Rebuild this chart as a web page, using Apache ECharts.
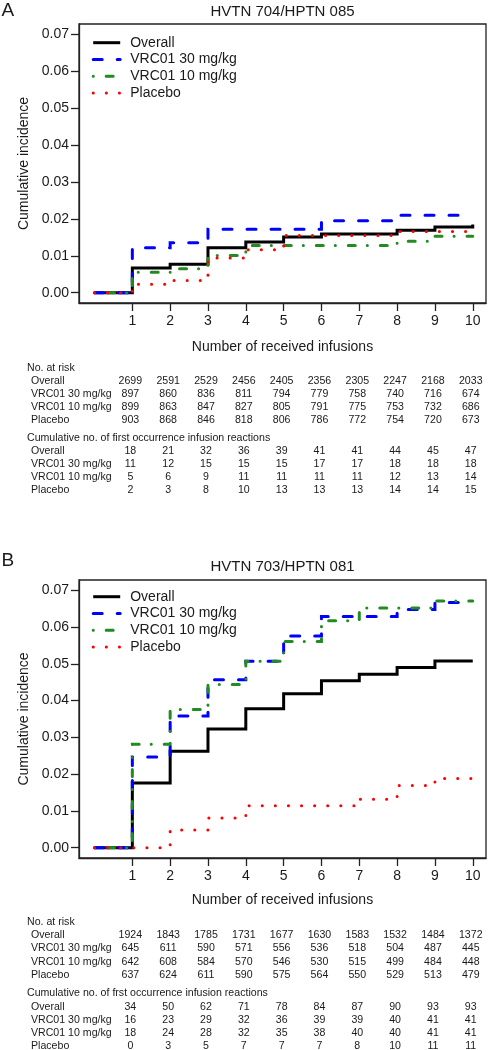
<!DOCTYPE html>
<html><head><meta charset="utf-8">
<script src="https://cdn.jsdelivr.net/npm/echarts@6/dist/echarts.min.js"></script>
<style>html,body{margin:0;padding:0;background:#fff}#c{width:489px;height:1050px}</style>
</head><body><div id="c"></div>
<script>
// ---------- data ----------
const infusions = [0,1,2,3,4,5,6,7,8,9,10];
const xTicks = [1,2,3,4,5,6,7,8,9,10];
const yTicks = [0,0.01,0.02,0.03,0.04,0.05,0.06,0.07];
const seriesNames = ['Overall','VRC01 30 mg/kg','VRC01 10 mg/kg','Placebo'];

const titleA = 'HVTN 704/HPTN 085';
const titleB = 'HVTN 703/HPTN 081';
const xAxisTitle = 'Number of received infusions';
const yAxisTitle = 'Cumulative incidence';
const riskHeader = 'No. at risk';
const eventHeaderA = 'Cumulative no. of first occurrence infusion reactions';
const eventHeaderB = 'Cumulative no. of frst occurrence infusion reactions';

// Panel A cumulative incidence (value after k infusions)
const cumIncA_overall = [0,0.0067,0.0077,0.0122,0.0137,0.0151,0.0159,0.0159,0.0169,0.0178,0.0185];
const cumIncA_vrc30   = [0,0.0122,0.0135,0.0172,0.0172,0.0172,0.0195,0.0195,0.0210,0.0210,0.0210];
const cumIncA_vrc10   = [0,0.0055,0.0065,0.0101,0.0128,0.0128,0.0128,0.0128,0.0139,0.0153,0.0153];
const cumIncA_placebo = [0,0.0023,0.0033,0.0094,0.0116,0.0155,0.0155,0.0155,0.0166,0.0166,0.0168];

// Panel B cumulative incidence
const cumIncB_overall = [0,0.0176,0.0262,0.0323,0.0378,0.0419,0.0454,0.0472,0.0490,0.0508,0.0508];
const cumIncB_vrc30   = [0,0.0247,0.0358,0.0457,0.0507,0.0576,0.0629,0.0629,0.0648,0.0667,0.0667];
const cumIncB_vrc10   = [0,0.0281,0.0376,0.0444,0.0507,0.0561,0.0617,0.0652,0.0652,0.0671,0.0671];
const cumIncB_placebo = [0,0,0.0048,0.0081,0.0114,0.0114,0.0114,0.0132,0.0169,0.0188,0.0188];

// Panel A tables
const atRiskA_overall = [2699,2591,2529,2456,2405,2356,2305,2247,2168,2033];
const atRiskA_vrc30   = [897,860,836,811,794,779,758,740,716,674];
const atRiskA_vrc10   = [899,863,847,827,805,791,775,753,732,686];
const atRiskA_placebo = [903,868,846,818,806,786,772,754,720,673];
const cumEvA_overall  = [18,21,32,36,39,41,41,44,45,47];
const cumEvA_vrc30    = [11,12,15,15,15,17,17,18,18,18];
const cumEvA_vrc10    = [5,6,9,11,11,11,11,12,13,14];
const cumEvA_placebo  = [2,3,8,10,13,13,13,14,14,15];

// Panel B tables
const atRiskB_overall = [1924,1843,1785,1731,1677,1630,1583,1532,1484,1372];
const atRiskB_vrc30   = [645,611,590,571,556,536,518,504,487,445];
const atRiskB_vrc10   = [642,608,584,570,546,530,515,499,484,448];
const atRiskB_placebo = [637,624,611,590,575,564,550,529,513,479];
const cumEvB_overall  = [34,50,62,71,78,84,87,90,93,93];
const cumEvB_vrc30    = [16,23,29,32,36,39,39,40,41,41];
const cumEvB_vrc10    = [18,24,28,32,35,38,40,40,41,41];
const cumEvB_placebo  = [0,3,5,7,7,7,8,10,11,11];

// ---------- styling / layout ----------
const FONT = '"Liberation Sans", Arial, Helvetica, sans-serif';
const TXT = '#1a1a1a';
const lineStyles = [
  {color:'#000000', width:3, type:'solid', cap:'butt'},
  {color:'#0000ff', width:3, type:[9,15], cap:'round'},
  {color:'#228b22', width:3, type:[7,12,0.1,12.9], dashOffset:19, cap:'round'},
  {color:'#ff0000', width:3, type:[0.1,13], cap:'round'}
];
const panels = [
  {curves:[cumIncA_overall,cumIncA_vrc30,cumIncA_vrc10,cumIncA_placebo], title:titleA, letter:'A',
   top:24, height:279, titleY:11.7, letterY:10.5, legendTop:35.7, xNameGap:37,
   risk:[atRiskA_overall,atRiskA_vrc30,atRiskA_vrc10,atRiskA_placebo],
   ev:[cumEvA_overall,cumEvA_vrc30,cumEvA_vrc10,cumEvA_placebo], evHeader:eventHeaderA,
   h1:367.7, rows1:[381,393.9,406.8,419.6], h2:438.3, rows2:[451.2,464.1,477,490]},
  {curves:[cumIncB_overall,cumIncB_vrc30,cumIncB_vrc10,cumIncB_placebo], title:titleB, letter:'B',
   top:580, height:278, titleY:566.7, letterY:560.3, legendTop:589.7, xNameGap:35.5,
   risk:[atRiskB_overall,atRiskB_vrc30,atRiskB_vrc10,atRiskB_placebo],
   ev:[cumEvB_overall,cumEvB_vrc30,cumEvB_vrc10,cumEvB_placebo], evHeader:eventHeaderB,
   h1:921.7, rows1:[935,948.3,961.7,975], h2:993.3, rows2:[1006.7,1020,1032.9,1045.8]}
];

const chart = echarts.init(document.getElementById('c'), null, {renderer:'canvas'});

const grids = [], xAxes = [], yAxes = [], series = [], legends = [];
panels.forEach((p, pi) => {
  grids.push({left:79, top:p.top, width:407, height:p.height, show:true,
    borderColor:'#222', borderWidth:1.3, backgroundColor:'transparent', containLabel:false});
  xAxes.push({type:'value', gridIndex:pi, min:-0.41, max:10.35, position:'bottom',
    name:xAxisTitle, nameLocation:'middle', nameGap:p.xNameGap,
    nameTextStyle:{fontFamily:FONT, fontSize:14, color:TXT},
    axisLine:{show:true, onZero:false, lineStyle:{color:'#222', width:1.3}}, splitLine:{show:false},
    axisTick:{show:true, inside:false, length:8, customValues:xTicks, lineStyle:{color:'#222', width:1.3}},
    axisLabel:{show:true, customValues:xTicks, margin:11, fontFamily:FONT, fontSize:14, color:TXT}
  });
  yAxes.push({type:'value', gridIndex:pi, min:-0.0028, max:0.0728, position:'left',
    name:yAxisTitle, nameLocation:'middle', nameGap:46, nameRotate:90,
    nameTextStyle:{fontFamily:FONT, fontSize:14, color:TXT},
    axisLine:{show:true, onZero:false, lineStyle:{color:'#222', width:1.3}}, splitLine:{show:false},
    axisTick:{show:true, inside:false, length:8, customValues:yTicks, lineStyle:{color:'#222', width:1.3}},
    axisLabel:{show:true, customValues:yTicks, margin:10, fontFamily:FONT, fontSize:14, color:TXT,
      formatter: v => Number(v).toFixed(2)}
  });
  p.curves.forEach((arr, si) => {
    const ls = lineStyles[si];
    series.push({type:'line', name:seriesNames[si], xAxisIndex:pi, yAxisIndex:pi,
      step:'end', symbol:'none', showSymbol:false, animation:false, z:2+si,
      color:ls.color, itemStyle:{color:ls.color},
      lineStyle:{color:ls.color, width:ls.width, type:ls.type, dashOffset:ls.dashOffset||0, cap:ls.cap, join:'miter'},
      data: infusions.map((x, i) => [x, arr[i]])
    });
  });
  legends.push({show:true, orient:'vertical', left:91.7, top:p.legendTop, padding:0,
    itemWidth:27, itemHeight:14, itemGap:2.8, selectedMode:false, data:seriesNames,
    lineStyle:{width:3},
    itemStyle:{opacity:0, borderWidth:0},
    textStyle:{fontFamily:FONT, fontSize:14, color:TXT, padding:[0,0,0,5]}
  });
});

chart.setOption({animation:false, backgroundColor:'#fff',
  grid:grids, xAxis:xAxes, yAxis:yAxes, series:series, legend:legends});

// ---------- titles and tables (text) ----------
const graphics = [];
function txt(x, y, s, opts) {
  graphics.push({type:'text', x:x, y:y, silent:true, style:Object.assign({text:s, fill:TXT,
    font:'10.6px ' + FONT, align:'left', verticalAlign:'middle'}, opts||{})});
}
panels.forEach((p, pi) => {
  txt(1.5, p.letterY, p.letter, {font:'19px ' + FONT});
  const cx = 79 + 407/2;
  txt(cx, p.titleY, p.title, {font:'15px ' + FONT, align:'center'});
  const xs = xTicks.map(k => chart.convertToPixel({xAxisIndex:pi}, k) - 2);
  txt(27, p.h1, riskHeader);
  p.risk.forEach((row, ri) => {
    txt(31, p.rows1[ri], seriesNames[ri]);
    row.forEach((v, ci) => txt(xs[ci], p.rows1[ri], String(v), {align:'center'}));
  });
  txt(27, p.h2, p.evHeader);
  p.ev.forEach((row, ri) => {
    txt(31, p.rows2[ri], seriesNames[ri]);
    row.forEach((v, ci) => txt(xs[ci], p.rows2[ri], String(v), {align:'center'}));
  });
});
chart.setOption({graphic:graphics});
</script>
</body></html>
